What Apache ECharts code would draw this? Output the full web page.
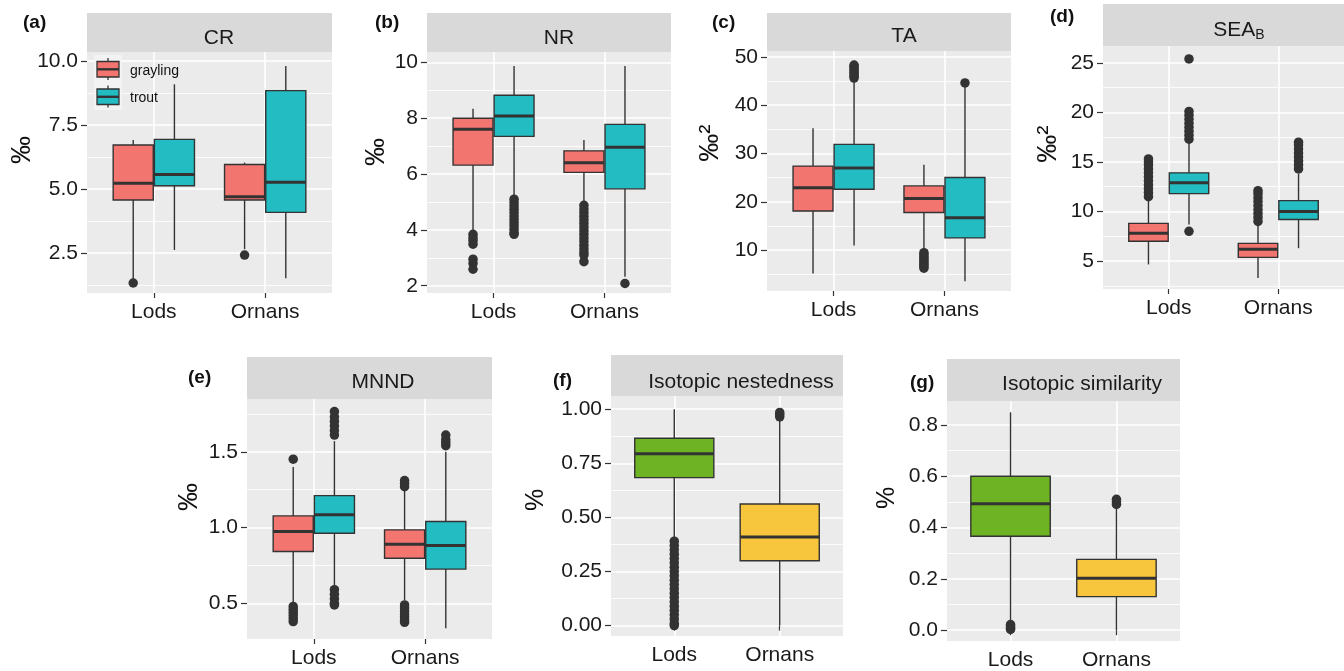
<!DOCTYPE html>
<html>
<head>
<meta charset="utf-8">
<script src="https://cdn.jsdelivr.net/npm/echarts@6/dist/echarts.min.js"></script>
<style>
  html, body { margin: 0; background: #fff; }
  #chart { width: 1344px; height: 671px; }
</style>
</head>
<body>
<div id="chart"></div>
<script>
const categories = ['Lods', 'Ornans'];
const species = ['grayling', 'trout'];

// boxes: [lower whisker, Q1, median, Q3, upper whisker], one row per site
// outliers: one list per site
const crGrayling = [[1.45, 4.57, 5.23, 6.72, 6.91], [2.65, 4.57, 4.70, 5.96, 6.03]];
const crTrout = [[2.62, 5.13, 5.57, 6.94, 9.09], [1.52, 4.09, 5.26, 8.84, 9.80]];
const crGraylingOut = [[1.33], [2.42]];
const crTroutOut = [[], []];
const crTicks = [2.5, 5, 7.5, 10];

const nrGrayling = [[3.95, 6.32, 7.60, 8.00, 8.34], [4.93, 6.06, 6.40, 6.83, 7.22]];
const nrTrout = [[5.20, 7.35, 8.08, 8.82, 9.87], [2.32, 5.47, 6.96, 7.78, 9.87]];
const nrGraylingOut = [[3.84, 3.72, 3.62, 3.49, 2.95, 2.80, 2.59],
  [4.88, 4.75, 4.62, 4.49, 4.36, 4.23, 4.10, 3.97, 3.84, 3.71, 3.58, 3.45, 3.32, 3.19, 3.10, 2.86]];
const nrTroutOut = [[5.10, 4.98, 4.86, 4.74, 4.62, 4.50, 4.38, 4.26, 4.14, 4.02, 3.90, 3.84], [2.08]];
const nrTicks = [2, 4, 6, 8, 10];

const taGrayling = [[5.2, 18.1, 22.9, 27.4, 35.2], [9.8, 17.8, 20.7, 23.3, 27.7]];
const taTrout = [[11.0, 22.6, 27.0, 31.9, 45.0], [3.6, 12.55, 16.7, 25.05, 43.8]];
const taGraylingOut = [[], [9.5, 9.1, 8.7, 8.3, 7.9, 7.5, 7.1, 6.7, 6.3]];
const taTroutOut = [[45.6, 46.0, 46.4, 46.8, 47.2, 47.6, 48.0, 48.3], [44.6]];
const taTicks = [10, 20, 30, 40, 50];

const seaGrayling = [[4.66, 7.0, 7.8, 8.8, 11.1], [3.3, 5.37, 6.18, 6.78, 8.6]];
const seaTrout = [[8.7, 11.8, 12.9, 13.9, 17.0], [6.3, 9.2, 10.0, 11.1, 13.8]];
const seaGraylingOut = [[11.5, 11.9, 12.3, 12.7, 13.1, 13.5, 13.9, 14.3, 14.7, 15.0, 15.3],
  [9.0, 9.4, 9.8, 10.2, 10.6, 11.0, 11.4, 11.8, 12.1]];
const seaTroutOut = [[17.3, 17.7, 18.1, 18.5, 18.9, 19.3, 19.7, 20.1, 25.4, 8.0],
  [14.3, 14.7, 15.1, 15.5, 15.9, 16.3, 16.7, 17.0]];
const seaTicks = [5, 10, 15, 20, 25];

const mnndGrayling = [[0.50, 0.842, 0.974, 1.077, 1.40], [0.52, 0.798, 0.89, 0.985, 1.25]];
const mnndTrout = [[0.60, 0.963, 1.084, 1.211, 1.57], [0.336, 0.726, 0.881, 1.04, 1.50]];
const mnndGraylingOut = [[1.451, 0.48, 0.46, 0.44, 0.42, 0.40, 0.38],
  [1.27, 1.29, 1.31, 0.49, 0.47, 0.45, 0.43, 0.41, 0.39, 0.375]];
const mnndTroutOut = [[1.61, 1.64, 1.67, 1.70, 1.73, 1.765, 0.59, 0.56, 0.53, 0.50, 0.49],
  [1.54, 1.56, 1.58, 1.61]];
const mnndTicks = [0.5, 1.0, 1.5];

const nestBox = [[0.41, 0.684, 0.794, 0.866, 1.0], [0.0, 0.30, 0.41, 0.562, 0.951]];
const nestOut = [[0.39, 0.37, 0.35, 0.33, 0.31, 0.29, 0.27, 0.25, 0.23, 0.21, 0.19, 0.17, 0.15,
  0.13, 0.11, 0.09, 0.07, 0.05, 0.03, 0.01, 0.0], [0.965, 0.975, 0.985]];
const nestTicks = [0, 0.25, 0.5, 0.75, 1.0];

const simBox = [[0.04, 0.366, 0.493, 0.60, 0.849], [0.0, 0.131, 0.202, 0.276, 0.487]];
const simOut = [[0.022, 0.015, 0.008, 0.003], [0.49, 0.50, 0.51]];
const simTicks = [0, 0.2, 0.4, 0.6, 0.8];

const FONT = 'Liberation Sans, Arial, sans-serif';
const RED = '#F27570';
const TEAL = '#22BCC2';
const GREEN = '#6DB324';
const YELLOW = '#F8C63C';
const speciesColors = [RED, TEAL];

const pair = (a, aOut, b, bOut) => [
  { box: a, out: aOut, colors: [RED, RED], offset: -0.185, width: 0.36 },
  { box: b, out: bOut, colors: [TEAL, TEAL], offset: 0.185, width: 0.36 }
];
const single = (a, aOut) => [{ box: a, out: aOut, colors: [GREEN, YELLOW], offset: 0, width: 0.75 }];

// layout of each facet
const panels = [
  { tag: '(a)', tagPos: [23, 23], strip: 'CR', stripX: 219, stripY: 38, unit: '‰', unitPos: [22, 150], unitSize: 28,
    grid: { left: 87, top: 52, width: 245, height: 241 }, stripH: 39,
    y: [0.94, 10.35], ticks: crTicks, minor: [1.25, 3.75, 6.25, 8.75], digits: 1,
    groups: pair(crGrayling, crGraylingOut, crTrout, crTroutOut) },
  { tag: '(b)', tagPos: [375, 23], strip: 'NR', stripX: 559, stripY: 38, unit: '‰', unitPos: [376, 152], unitSize: 28,
    grid: { left: 427, top: 52, width: 244, height: 241 }, stripH: 39,
    y: [1.74, 10.37], ticks: nrTicks, minor: [3, 5, 7, 9], digits: 0,
    groups: pair(nrGrayling, nrGraylingOut, nrTrout, nrTroutOut) },
  { tag: '(c)', tagPos: [712, 23], strip: 'TA', stripX: 904, stripY: 36, unit: '‰²', unitPos: [710, 143], unitSize: 28,
    grid: { left: 767, top: 51, width: 244, height: 240 }, stripH: 38,
    y: [1.57, 51.2], ticks: taTicks, minor: [5, 15, 25, 35, 45], digits: 0,
    groups: pair(taGrayling, taGraylingOut, taTrout, taTroutOut) },
  { tag: '(d)', tagPos: [1050, 17], strip: '{n|SEA}{s|B}', stripX: 1239, stripY: 30, unit: '‰²', unitPos: [1048, 144], unitSize: 28,
    grid: { left: 1103, top: 46, width: 241, height: 243 }, stripH: 42,
    y: [2.18, 26.7], ticks: seaTicks, minor: [2.5, 7.5, 12.5, 17.5, 22.5], digits: 0,
    groups: pair(seaGrayling, seaGraylingOut, seaTrout, seaTroutOut) },
  { tag: '(e)', tagPos: [188, 378], strip: 'MNND', stripX: 383, stripY: 382, unit: '‰', unitPos: [189, 497], unitSize: 28,
    grid: { left: 247, top: 399, width: 245, height: 240 }, stripH: 42,
    y: [0.265, 1.848], ticks: mnndTicks, minor: [0.75, 1.25, 1.75], digits: 1,
    groups: pair(mnndGrayling, mnndGraylingOut, mnndTrout, mnndTroutOut) },
  { tag: '(f)', tagPos: [553, 381], strip: 'Isotopic nestedness', stripX: 741, stripY: 382, unit: '%', unitPos: [536, 500], unitSize: 25,
    grid: { left: 611, top: 396, width: 232, height: 240 }, stripH: 41,
    y: [-0.048, 1.061], ticks: nestTicks, minor: [0.125, 0.375, 0.625, 0.875], digits: 2,
    groups: single(nestBox, nestOut) },
  { tag: '(g)', tagPos: [910, 383], strip: 'Isotopic similarity', stripX: 1082, stripY: 384, unit: '%', unitPos: [887, 498], unitSize: 25,
    grid: { left: 947, top: 401, width: 233, height: 241 }, stripH: 42,
    y: [-0.042, 0.893], ticks: simTicks, minor: [0.1, 0.3, 0.5, 0.7], digits: 1,
    groups: single(simBox, simOut) }
];

const grids = [], xAxes = [], yAxes = [], series = [], graphics = [];

function boxRenderer(colors, width) {
  return function (params, api) {
    const x = api.value(0);
    const lo = api.coord([x, api.value(1)]);
    const q1 = api.coord([x, api.value(2)]);
    const med = api.coord([x, api.value(3)]);
    const q3 = api.coord([x, api.value(4)]);
    const hi = api.coord([x, api.value(5)]);
    const hw = api.size([width, 0])[0] / 2;
    const fill = colors[api.value(6)];
    return {
      type: 'group',
      children: [
        { type: 'line', shape: { x1: lo[0], y1: lo[1], x2: hi[0], y2: hi[1] },
          style: { stroke: '#333', lineWidth: 1.4 } },
        { type: 'rect', shape: { x: q1[0] - hw, y: q3[1], width: hw * 2, height: q1[1] - q3[1] },
          style: { fill: fill, stroke: '#333', lineWidth: 1.4 } },
        { type: 'line', shape: { x1: med[0] - hw, y1: med[1], x2: med[0] + hw, y2: med[1] },
          style: { stroke: '#333', lineWidth: 3 } }
      ]
    };
  };
}

panels.forEach((p, i) => {
  grids.push(Object.assign({ show: true, backgroundColor: '#EBEBEB', borderWidth: 0 }, p.grid));

  xAxes.push({
    gridIndex: i, type: 'value', min: 0.4, max: 2.6,
    axisLine: { show: false },
    axisTick: { customValues: [1, 2], length: 5, lineStyle: { color: '#333', width: 1.2 } },
    axisLabel: { customValues: [1, 2], formatter: v => categories[Math.round(v) - 1],
      fontFamily: FONT, fontSize: 21, color: '#1a1a1a', margin: 9 },
    splitLine: { show: true, lineStyle: { color: '#fff', width: 1.6 } }
  });

  yAxes.push({
    gridIndex: i, type: 'value', min: p.y[0], max: p.y[1],
    axisLine: { show: false },
    axisTick: { customValues: p.ticks, length: 6, lineStyle: { color: '#333', width: 1.2 } },
    axisLabel: { customValues: p.ticks, formatter: v => v.toFixed(p.digits),
      fontFamily: FONT, fontSize: 21, color: '#1a1a1a', margin: 9 },
    splitLine: { show: true, lineStyle: { color: '#fff', width: 1.6 } }
  });
  // minor grid lines
  yAxes.push({
    gridIndex: i, type: 'value', min: p.y[0], max: p.y[1], position: 'left',
    axisLine: { show: false },
    axisTick: { show: false, customValues: p.minor },
    axisLabel: { show: false },
    splitLine: { show: true, lineStyle: { color: '#fff', width: 0.8 } }
  });

  p.groups.forEach(g => {
    series.push({
      type: 'custom', xAxisIndex: i, yAxisIndex: i * 2,
      renderItem: boxRenderer(g.colors, g.width),
      encode: { x: 0, y: [1, 2, 3, 4, 5] },
      data: g.box.map((b, k) => [k + 1 + g.offset].concat(b, [k]))
    });
    series.push({
      type: 'scatter', xAxisIndex: i, yAxisIndex: i * 2, symbolSize: 9.5,
      itemStyle: { color: '#333', opacity: 1 },
      data: g.out.flatMap((vals, k) => vals.map(v => [k + 1 + g.offset, v]))
    });
  });

  // facet strip
  graphics.push({
    type: 'rect', silent: true, z: 100,
    shape: { x: p.grid.left, y: p.grid.top - p.stripH, width: p.grid.width, height: p.stripH },
    style: { fill: '#D9D9D9' }
  });
  graphics.push({
    type: 'text', silent: true, z: 101, x: p.stripX, y: p.stripY,
    style: {
      text: p.strip, fontFamily: FONT, fontSize: 21, fill: '#1a1a1a', align: 'center', verticalAlign: 'middle',
      rich: { n: { fontFamily: FONT, fontSize: 21, fill: '#1a1a1a' },
              s: { fontFamily: FONT, fontSize: 14, fill: '#1a1a1a', padding: [10, 0, 0, 0] } }
    }
  });
  graphics.push({
    type: 'text', silent: true, z: 101, x: p.tagPos[0], y: p.tagPos[1],
    style: { text: p.tag, fontFamily: FONT, fontSize: 19, fontWeight: 'bold', fill: '#111', verticalAlign: 'middle' }
  });
  graphics.push({
    type: 'text', silent: true, z: 101, x: p.unitPos[0], y: p.unitPos[1], rotation: Math.PI / 2,
    style: { text: p.unit, fontFamily: FONT, fontSize: p.unitSize, fill: '#111', align: 'center', verticalAlign: 'middle' }
  });
});

// legend for panel (a)
species.forEach((name, k) => {
  const top = 55 + k * 27.5;
  graphics.push({ type: 'rect', silent: true, z: 100, shape: { x: 94, y: top, width: 28, height: 27.5 }, style: { fill: '#F3F3F3' } });
  graphics.push({ type: 'line', silent: true, z: 101, shape: { x1: 108, y1: top + 3, x2: 108, y2: top + 25 }, style: { stroke: '#333', lineWidth: 1.3 } });
  graphics.push({ type: 'rect', silent: true, z: 102, shape: { x: 97, y: top + 6.5, width: 22, height: 15.5 },
    style: { fill: speciesColors[k], stroke: '#333', lineWidth: 1.3 } });
  graphics.push({ type: 'line', silent: true, z: 103, shape: { x1: 97, y1: top + 14.3, x2: 119, y2: top + 14.3 }, style: { stroke: '#333', lineWidth: 2.4 } });
  graphics.push({ type: 'text', silent: true, z: 103, x: 130, y: top + 16,
    style: { text: name, fontFamily: FONT, fontSize: 14, fill: '#111', verticalAlign: 'middle' } });
});

const chart = echarts.init(document.getElementById('chart'));
chart.setOption({
  animation: false,
  backgroundColor: '#fff',
  grid: grids,
  xAxis: xAxes,
  yAxis: yAxes,
  series: series,
  graphic: { elements: graphics }
});
</script>
</body>
</html>
